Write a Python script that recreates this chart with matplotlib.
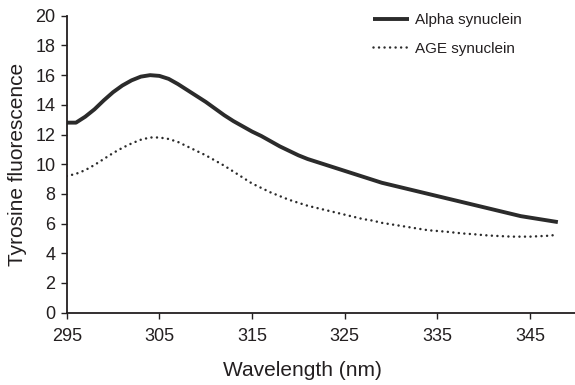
import numpy as np
import matplotlib
matplotlib.use('Agg')
import matplotlib.pyplot as plt

plt.rcParams['font.family'] = ['Liberation Sans', 'DejaVu Sans']

# Wavelength (nm), one reading per nm
wavelength = np.arange(295, 349)

alpha_synuclein = [12.8, 12.8, 13.2, 13.7, 14.3, 14.85, 15.3, 15.65, 15.9, 16.0,
                   15.95, 15.75, 15.4, 15.0, 14.6, 14.2, 13.75, 13.3, 12.9, 12.55,
                   12.2, 11.9, 11.55, 11.2, 10.9, 10.6, 10.35, 10.15, 9.95, 9.75,
                   9.55, 9.35, 9.15, 8.95, 8.75, 8.6, 8.45, 8.3, 8.15, 8.0,
                   7.85, 7.7, 7.55, 7.4, 7.25, 7.1, 6.95, 6.8, 6.65, 6.5,
                   6.4, 6.3, 6.2, 6.1]

age_synuclein = [9.2, 9.35, 9.6, 9.95, 10.35, 10.75, 11.1, 11.4, 11.65, 11.8,
                 11.8, 11.7, 11.5, 11.2, 10.9, 10.6, 10.25, 9.9, 9.5, 9.1,
                 8.7, 8.4, 8.1, 7.85, 7.6, 7.4, 7.2, 7.05, 6.9, 6.75,
                 6.6, 6.45, 6.3, 6.2, 6.05, 5.95, 5.85, 5.75, 5.65, 5.55,
                 5.5, 5.45, 5.38, 5.32, 5.28, 5.22, 5.18, 5.15, 5.12, 5.12,
                 5.12, 5.15, 5.18, 5.25]

x_ticks = [295, 305, 315, 325, 335, 345]
y_ticks = np.arange(0, 21, 2)

ink = '#231f20'

fig = plt.figure(figsize=(5.75, 3.85), dpi=100)
ax = fig.add_axes([0.116, 0.188, 0.884, 0.771])

ax.plot(wavelength, alpha_synuclein, color='#2b2b2b', linewidth=2.8,
        solid_capstyle='butt', label='Alpha synuclein')
ax.plot(wavelength, age_synuclein, color='#2b2b2b', linewidth=1.8,
        linestyle=(0, (0.01, 2.2)), dash_capstyle='round', label='AGE synuclein')

ax.set_xlim(295, 349.85)
ax.set_ylim(0, 20)
ax.set_xticks(x_ticks)
ax.set_yticks(y_ticks)

for side in ['top', 'right']:
    ax.spines[side].set_visible(False)
for side in ['left', 'bottom']:
    ax.spines[side].set_linewidth(1.3)
    ax.spines[side].set_color(ink)

ax.tick_params(axis='both', direction='out', length=4.5, width=1.0, colors=ink,
               labelsize=13)
ax.tick_params(axis='x', pad=6.5)
ax.tick_params(axis='y', pad=3.5)

ax.set_xlabel('Wavelength (nm)', fontsize=15, color=ink)
ax.set_ylabel('Tyrosine fluorescence', fontsize=15, color=ink)
ax.xaxis.set_label_coords(0.463, -0.162)
ax.yaxis.set_label_coords(-0.079, 0.5)

leg = ax.legend(loc='upper left', bbox_to_anchor=(0.59, 1.03), frameon=False,
                fontsize=11, handlelength=2.4, handletextpad=0.4, labelspacing=0.95,
                borderaxespad=0)
for t in leg.get_texts():
    t.set_color(ink)

fig.savefig('out.png', dpi=100)
